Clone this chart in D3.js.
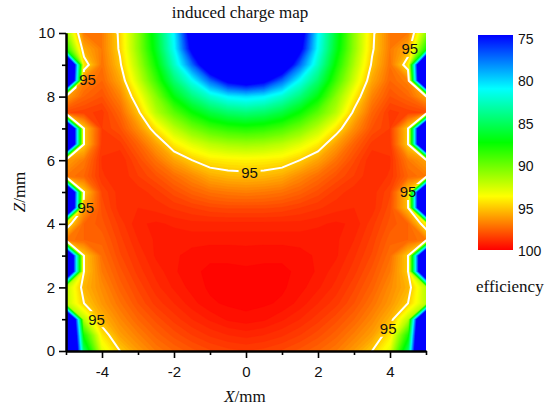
<!DOCTYPE html>
<html>
<head>
<meta charset="utf-8">
<script src="https://cdn.jsdelivr.net/npm/d3@7"></script>
<style>
  body { margin: 0; background: #fff; }
  svg { display: block; }
  .sans { font-family: "Liberation Sans", Arial, sans-serif; }
  .serif { font-family: "Liberation Serif", "Times New Roman", serif; }
</style>
</head>
<body>
<svg id="chart" width="549" height="406"></svg>
<script>
// x = -5 .. 5 and z = 10 .. 0, both every 0.5 mm
var xValues = [-5,-4.5,-4,-3.5,-3,-2.5,-2,-1.5,-1,-0.5,0,0.5,1,1.5,2,2.5,3,3.5,4,4.5,5];
var zValues = [10,9.5,9,8.5,8,7.5,7,6.5,6,5.5,5,4.5,4,3.5,3,2.5,2,1.5,1,0.5,0];

// efficiency, one row per z
var efficiency = [
  [91,97,97,94.7,90.9,86.3,81,73,65,55,45,55,65,73,81,86.3,90.9,94.7,97,97,91],
  [88,95.8,97,94.8,91,86.7,81.4,74.2,67,59,55,59,67,74.2,81.4,86.7,91,94.8,97,95.8,88],
  [55,94.2,97.2,95.2,91.7,87.7,82.7,77.5,71.6,67,65,67,71.6,77.5,82.7,87.7,91.7,95.2,97.2,94.2,55],
  [55,96.8,97.5,95.9,92.6,89,84.8,81.5,77.5,74.2,73,74.2,77.5,81.5,84.8,89,92.6,95.9,97.5,96.8,55],
  [96,97.5,98,96.8,94,90.8,87.2,84.5,82.4,81,80.5,81,82.4,84.5,87.2,90.8,94,96.8,98,97.5,96],
  [98.2,98.4,98.6,97.5,95.3,92,89.7,87.6,85.9,84.9,84.5,84.9,85.9,87.6,89.7,92,95.3,97.5,98.6,98.4,98.2],
  [55,95,98.5,98,96.5,94.3,92.1,90.4,89.2,88.5,88.2,88.5,89.2,90.4,92.1,94.3,96.5,98,98.5,95,55],
  [55,95,98.6,98.6,97.6,96.1,94.2,93,92.1,91.6,91.4,91.6,92.1,93,94.2,96.1,97.6,98.6,98.6,95,55],
  [96,97,98.8,99,98.2,97.2,96,95,94.3,94.1,94,94.1,94.3,95,96,97.2,98.2,99,98.8,97,96],
  [97,97.5,98.7,99,98.5,98,97.3,96.6,95.8,95.5,95.4,95.5,95.8,96.6,97.3,98,98.5,99,98.7,97.5,97],
  [55,95,98.3,98.9,98.9,98.6,98.1,97.6,97.2,97,96.9,97,97.2,97.6,98.1,98.6,98.9,98.9,98.3,95,55],
  [55,96,98.1,98.9,99,98.9,98.7,98.5,98.3,98.2,98.2,98.2,98.3,98.5,98.7,98.9,99,98.9,98.1,95.2,55],
  [94,97.5,97.9,98.6,99.2,99.3,99.2,99.1,99.1,99.1,99.1,99.1,99.1,99.1,99.2,99.3,99.2,98.6,97.9,97.5,94],
  [97,97.5,97.6,98.4,99,99.3,99.4,99.4,99.4,99.4,99.4,99.4,99.4,99.4,99.4,99.3,99,98.4,97.6,97.5,97],
  [60,95,97.3,98.2,98.8,99.3,99.45,99.6,99.7,99.7,99.65,99.7,99.7,99.6,99.45,99.3,98.8,98.2,97.3,95,60],
  [60,95,97,97.9,98.6,99.1,99.45,99.7,99.8,99.8,99.8,99.8,99.8,99.7,99.45,99.1,98.6,97.9,97,95,60],
  [92,95.6,96.6,97.6,98.3,98.9,99.3,99.6,99.8,99.85,99.85,99.85,99.8,99.6,99.3,98.9,98.3,97.6,96.6,95.6,92],
  [92,95,96.3,97.2,98,98.6,99,99.4,99.7,99.8,99.85,99.8,99.7,99.4,99,98.6,98,97.2,96.3,95,92],
  [55,92,95.6,96.7,97.5,98.1,98.6,99,99.3,99.55,99.65,99.55,99.3,99,98.6,98.1,97.5,96.7,95.6,92,55],
  [55,88,94.3,96.1,96.9,97.6,98.1,98.5,98.8,99,99.1,99,98.8,98.5,98.1,97.6,96.9,96.1,94.3,88,55],
  [55,85,93,95,96.2,97,97.5,97.9,98.2,98.4,98.5,98.4,98.2,97.9,97.5,97,96.2,95,93,85,55]
];

var colorStops = [75, 81.25, 87.5, 93.75, 100];
var colorNames = ["#0000ff", "#00ffff", "#00ff00", "#ffff00", "#ff0000"];
var legendTicks = [75, 80, 85, 90, 95, 100];
var contourLabels = [[-4.4, 8.52], [-4.45, 4.5], [-4.15, 1], [0.1, 5.6], [4.5, 5], [4.55, 9.5], [3.95, 0.7]];

var margin = {top: 33, left: 66};
var width = 360, height = 318;

var svg = d3.select("#chart");

var xScale = d3.scaleLinear().domain([-5, 5]).range([margin.left, margin.left + width]);
var zScale = d3.scaleLinear().domain([0, 10]).range([margin.top + height, margin.top]);
var color = d3.scaleLinear().domain(colorStops).range(colorNames).clamp(true);

// contour grid coords -> data coords (value i sits at i + 0.5)
var toPx = d3.geoTransform({
  point: function(c, r) {
    this.stream.point(xScale(-5 + (c - 0.5) * 0.5), zScale(10 - (r - 0.5) * 0.5));
  }
});
var path = d3.geoPath(toPx);

var grid = d3.merge(efficiency);
var contours = d3.contours().size([xValues.length, zValues.length]);

svg.append("clipPath").attr("id", "plot-clip").append("rect")
    .attr("x", margin.left).attr("y", margin.top)
    .attr("width", width).attr("height", height);

var plot = svg.append("g").attr("clip-path", "url(#plot-clip)");

plot.append("rect")
    .attr("x", margin.left).attr("y", margin.top)
    .attr("width", width).attr("height", height)
    .attr("fill", colorNames[0]);

// filled bands, low to high so the red sits on top
var levels = d3.range(75, 100, 0.25);
plot.selectAll("path.band")
    .data(contours.thresholds(levels)(grid))
    .enter().append("path")
    .attr("class", "band")
    .attr("d", path)
    .attr("fill", function(d) { return color(d.value + 0.125); })
    .attr("stroke", function(d) { return color(d.value + 0.125); })
    .attr("stroke-width", 0.3);

// gaps in the white line where the labels go
var mask = svg.append("mask").attr("id", "label-gaps").attr("maskUnits", "userSpaceOnUse")
    .attr("x", 0).attr("y", 0).attr("width", 549).attr("height", 406);
mask.append("rect").attr("width", 549).attr("height", 406).attr("fill", "#fff");
mask.selectAll("rect.gap")
    .data(contourLabels)
    .enter().append("rect")
    .attr("class", "gap")
    .attr("x", function(d) { return xScale(d[0]) - 11; })
    .attr("y", function(d) { return zScale(d[1]) - 8; })
    .attr("width", 22).attr("height", 16)
    .attr("fill", "#000");

plot.append("g").attr("mask", "url(#label-gaps)")
  .selectAll("path.line")
    .data(contours.thresholds([95])(grid))
    .enter().append("path")
    .attr("class", "line")
    .attr("d", path)
    .attr("fill", "none")
    .attr("stroke", "#fff")
    .attr("stroke-width", 2);

svg.selectAll("text.clabel")
    .data(contourLabels)
    .enter().append("text")
    .attr("class", "clabel sans")
    .attr("x", function(d) { return xScale(d[0]); })
    .attr("y", function(d) { return zScale(d[1]); })
    .attr("dy", "0.36em")
    .attr("text-anchor", "middle")
    .attr("font-size", 15)
    .attr("fill", "#111")
    .text("95");

// axes: majors with labels, then minors
function styleAxis(g) {
  g.selectAll("text").attr("class", "sans").attr("font-size", 15).attr("font-family", null).attr("fill", "#111");
  g.selectAll("line").attr("stroke", "#000").attr("stroke-width", 1.6);
  g.selectAll("path").attr("stroke", "#000").attr("stroke-width", 2);
}
var xAxisG = svg.append("g").attr("transform", "translate(0," + (margin.top + height) + ")");
xAxisG.append("g").call(d3.axisBottom(xScale).tickValues([-5, -3, -1, 1, 3, 5]).tickSize(4).tickFormat("").tickSizeOuter(0)).call(styleAxis);
xAxisG.append("g").call(d3.axisBottom(xScale).tickValues([-4, -2, 0, 2, 4]).tickSize(7).tickPadding(8).tickSizeOuter(0)
    .tickFormat(function(d) { return d; })).call(styleAxis);

var zAxisG = svg.append("g").attr("transform", "translate(" + margin.left + ",0)");
zAxisG.append("g").call(d3.axisLeft(zScale).tickValues([1, 3, 5, 7, 9]).tickSize(4).tickFormat("").tickSizeOuter(0)).call(styleAxis);
zAxisG.append("g").call(d3.axisLeft(zScale).tickValues([0, 2, 4, 6, 8, 10]).tickSize(7).tickPadding(4).tickSizeOuter(0)).call(styleAxis);

// titles
svg.append("text").attr("class", "serif").attr("x", 240).attr("y", 18)
    .attr("text-anchor", "middle").attr("font-size", 17).attr("fill", "#111")
    .text("induced charge map");

var xTitle = svg.append("text").attr("class", "serif").attr("x", 245).attr("y", 402)
    .attr("text-anchor", "middle").attr("font-size", 17).attr("fill", "#111");
xTitle.append("tspan").attr("font-style", "italic").text("X");
xTitle.append("tspan").text("/mm");

var zTitle = svg.append("text").attr("class", "serif")
    .attr("transform", "translate(25,192)rotate(-90)")
    .attr("text-anchor", "middle").attr("font-size", 17).attr("fill", "#111");
zTitle.append("tspan").attr("font-style", "italic").text("Z");
zTitle.append("tspan").text("/mm");

// colour bar
var barScale = d3.scaleLinear().domain([75, 100]).range([35, 250]);
var legendGrad = svg.append("linearGradient").attr("id", "bar-grad")
    .attr("x1", 0).attr("x2", 0).attr("y1", 0).attr("y2", 1);
legendGrad.selectAll("stop")
    .data(colorStops)
    .enter().append("stop")
    .attr("offset", function(d) { return (barScale(d) - 35) / 215; })
    .attr("stop-color", function(d) { return color(d); });
svg.append("rect").attr("x", 478).attr("y", barScale(75))
    .attr("width", 35).attr("height", barScale(100) - barScale(75))
    .attr("fill", "url(#bar-grad)");

var legendLabels = d3.scaleLinear().domain([75, 100]).range([39, 251]);
var legendAxis = svg.append("g").attr("transform", "translate(513,0)")
    .call(d3.axisRight(legendLabels).tickValues(legendTicks).tickSize(0).tickPadding(5));
legendAxis.select("path").remove();
legendAxis.selectAll("text").attr("class", "sans").attr("font-size", 14).attr("font-family", null).attr("fill", "#111");

svg.append("text").attr("class", "serif").attr("x", 476).attr("y", 292)
    .attr("font-size", 17).attr("fill", "#111").text("efficiency");
</script>
</body>
</html>
